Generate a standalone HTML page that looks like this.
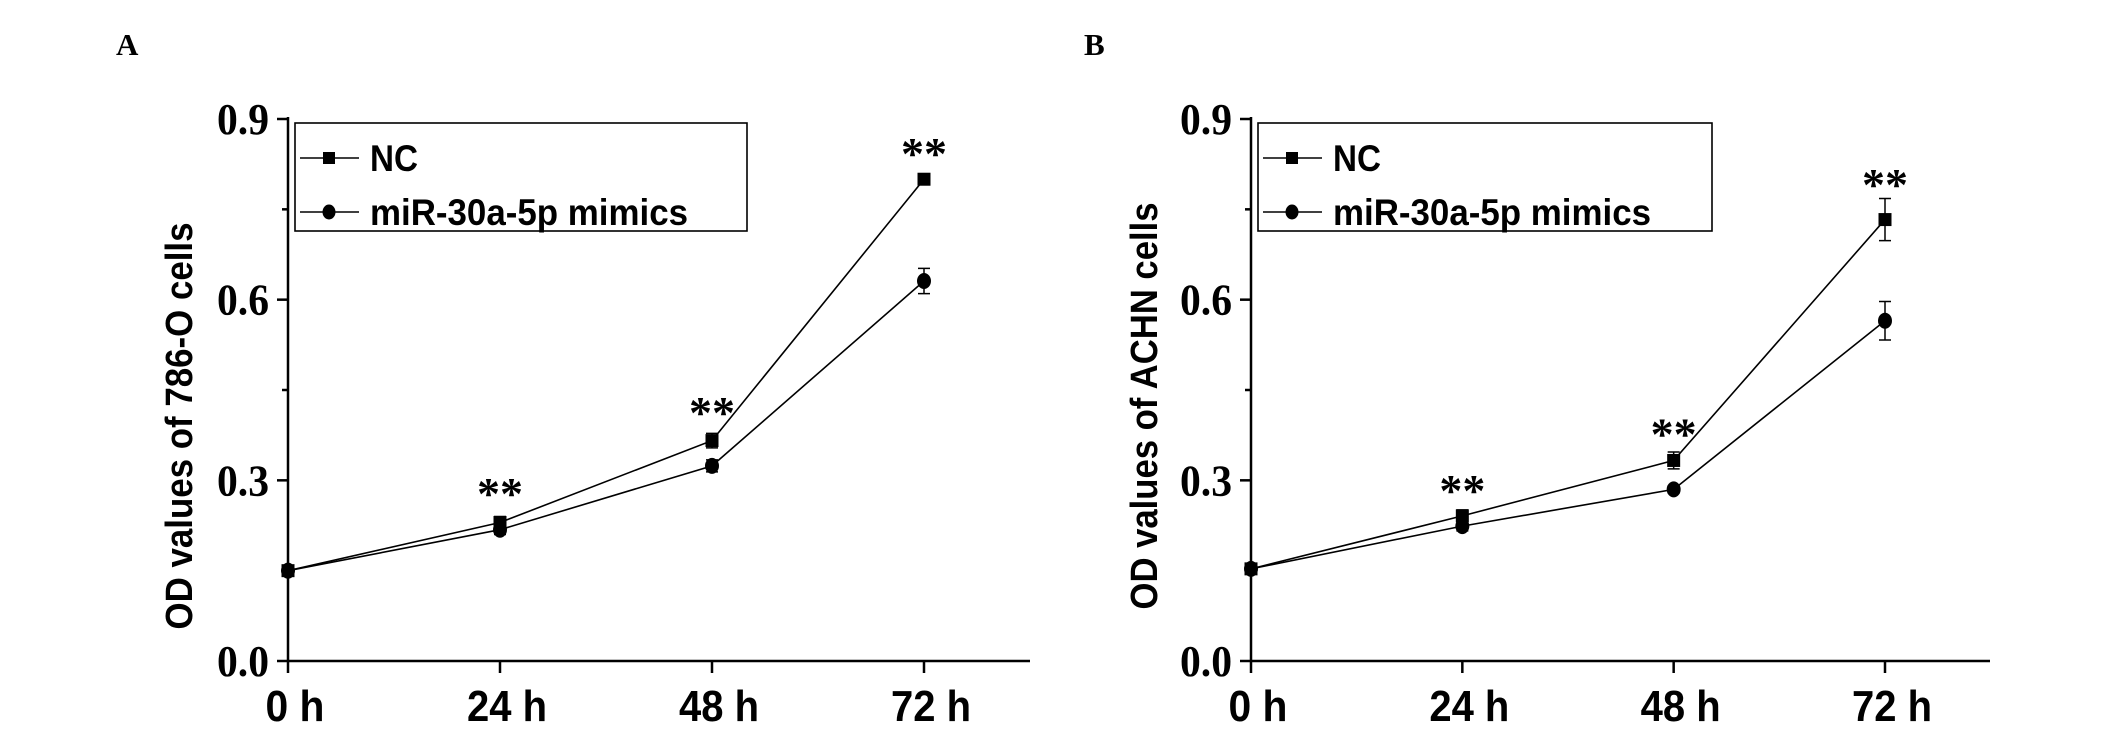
<!DOCTYPE html>
<html><head><meta charset="utf-8"><style>
html,body{margin:0;padding:0;background:#fff}
svg{display:block}
</style></head><body>
<svg id="fig" width="2126" height="738" viewBox="0 0 2126 738" xmlns="http://www.w3.org/2000/svg"></svg>
<script>
const categories = ["0 h","24 h","48 h","72 h"];
const yTicks = [0.0,0.3,0.6,0.9];
const yTickLabels = ["0.0","0.3","0.6","0.9"];
const yMinorTicks = [0.15,0.45,0.75];
const aNC = [0.150,0.230,0.366,0.800];
const aNCerr = [0.005,0.010,0.012,0.006];
const aMim = [0.150,0.218,0.324,0.631];
const aMimErr = [0.005,0.008,0.010,0.021];
const bNC = [0.153,0.241,0.333,0.733];
const bNCerr = [0.005,0.010,0.014,0.035];
const bMim = [0.153,0.224,0.285,0.565];
const bMimErr = [0.005,0.008,0.006,0.032];
const aStars = [null,"**","**","**"];
const aStarLevel = [null,0.287,0.422,0.852];
const bStars = [null,"**","**","**"];
const bStarLevel = [null,0.292,0.386,0.800];

const NS="http://www.w3.org/2000/svg";
const svg=document.getElementById('fig');
function mk(tag,attrs,parent){const e=document.createElementNS(NS,tag);for(const k in attrs)e.setAttribute(k,attrs[k]);(parent||svg).appendChild(e);return e;}

function panel(p){
  const g=mk('g',{});
  
  
  const X=i=>p.x0+i*(p.x3-p.x0)/3;
  const Y=v=>p.y0-v*(p.y0-p.y9)/0.9;
  const L=mk('text',{x:p.letterX,y:55,'font-family':'Liberation Serif, serif','font-weight':'bold','font-size':31},g);
  L.textContent=p.letter;
  
  
  const ax=mk('g',{stroke:'#000','stroke-width':2.5,fill:'none'},g);
  
  
  mk('line',{x1:p.x0,y1:p.y9-2,x2:p.x0,y2:p.y0},ax);
  mk('line',{x1:p.x0-1,y1:p.y0,x2:p.xEnd,y2:p.y0},ax);
  yTicks.forEach((v,i)=>{
    mk('line',{x1:p.x0-11,y1:Y(v),x2:p.x0,y2:Y(v)},ax);
    const t=mk('text',{x:p.x0-19,y:Y(v)+15,'text-anchor':'end','font-family':'Liberation Serif, serif','font-weight':'bold','font-size':44,textLength:52,lengthAdjust:'spacingAndGlyphs',fill:'#000',stroke:'none'},g);
    t.textContent=yTickLabels[i];
    
    
  });
  yMinorTicks.forEach(v=>{mk('line',{x1:p.x0-6,y1:Y(v),x2:p.x0,y2:Y(v)},ax);});
  categories.forEach((c,i)=>{
    mk('line',{x1:X(i),y1:p.y0,x2:X(i),y2:p.y0+12},ax);
    const w=c.length===3?59:80;
    const t=mk('text',{x:X(i)+7,y:p.y0+60,'text-anchor':'middle','font-family':'Liberation Sans, sans-serif','font-weight':'bold','font-size':44,textLength:w,lengthAdjust:'spacingAndGlyphs',fill:'#000'},g);
    t.textContent=c;
    
    
  });
  const yt=mk('text',{x:0,y:0,transform:`translate(${p.titleX+14},${p.titleMid}) rotate(-90)`,'text-anchor':'middle','font-family':'Liberation Sans, sans-serif','font-weight':'bold','font-size':38,textLength:407,lengthAdjust:'spacingAndGlyphs'},g);
  yt.textContent=p.title;
  
  
  function series(vals,errs,marker,name){
    const sg=mk('g',{},g);
    
    
    mk('polyline',{points:vals.map((v,i)=>X(i)+','+Y(v)).join(' '),fill:'none',stroke:'#000','stroke-width':1.6},sg);
    vals.forEach((v,i)=>{
      const x=X(i),y1=Y(v+errs[i]),y2=Y(v-errs[i]);
      mk('path',{d:`M${x},${y1}V${y2}M${x-6},${y1}H${x+6}M${x-6},${y2}H${x+6}`,stroke:'#000','stroke-width':1.5,fill:'none'},sg);
      let m;
      if(marker==='sq') m=mk('rect',{x:x-6.5,y:Y(v)-6.5,width:13,height:13,fill:'#000'},sg);
      else m=mk('ellipse',{cx:x,cy:Y(v),rx:7,ry:8,fill:'#000'},sg);
      
      
    });
  }
  series(p.mim,p.mimErr,'ci','mimics-series');
  series(p.nc,p.ncErr,'sq','nc-series');
  p.stars.forEach((s,i)=>{
    if(!s)return;
    const t=mk('text',{x:X(i),y:Y(p.starLevel[i])+21,'text-anchor':'middle','font-family':'Liberation Serif, serif','font-weight':'bold','font-size':46},g);
    t.textContent=s;
    
    
  });
  const lg=mk('g',{},g);
  
  
  mk('rect',{x:p.lx,y:123,width:p.lw,height:108,fill:'#fff',stroke:'#000','stroke-width':1.6},lg);
  const rows=[['NC',158,'sq',48],['miR-30a-5p mimics',212,'ci',318]];
  rows.forEach(r=>{
    const e=mk('g',{},lg);
    
    
    mk('line',{x1:p.lx+5,y1:r[1],x2:p.lx+64,y2:r[1],stroke:'#000','stroke-width':1.6},e);
    if(r[2]==='sq') mk('rect',{x:p.lx+28,y:r[1]-6,width:12,height:12},e);
    else mk('ellipse',{cx:p.lx+34,cy:r[1],rx:6.5,ry:7.5},e);
    const t=mk('text',{x:p.lx+75,y:r[1]+13,'font-family':'Liberation Sans, sans-serif','font-weight':'bold','font-size':37,textLength:r[3],lengthAdjust:'spacingAndGlyphs'},e);
    t.textContent=r[0];
  });
}
panel({id:'panel-a',letter:'A',letterX:116,x0:288,x3:924,xEnd:1030,y0:661,y9:119,title:'OD values of 786-O cells',titleX:178,titleMid:426,
  nc:aNC,ncErr:aNCerr,mim:aMim,mimErr:aMimErr,stars:aStars,starLevel:aStarLevel,lx:295,lw:452});
panel({id:'panel-b',letter:'B',letterX:1084,x0:1251,x3:1885,xEnd:1990,y0:661,y9:119,title:'OD values of ACHN cells',titleX:1143,titleMid:406,
  nc:bNC,ncErr:bNCerr,mim:bMim,mimErr:bMimErr,stars:bStars,starLevel:bStarLevel,lx:1258,lw:454});
</script>
</body></html>
